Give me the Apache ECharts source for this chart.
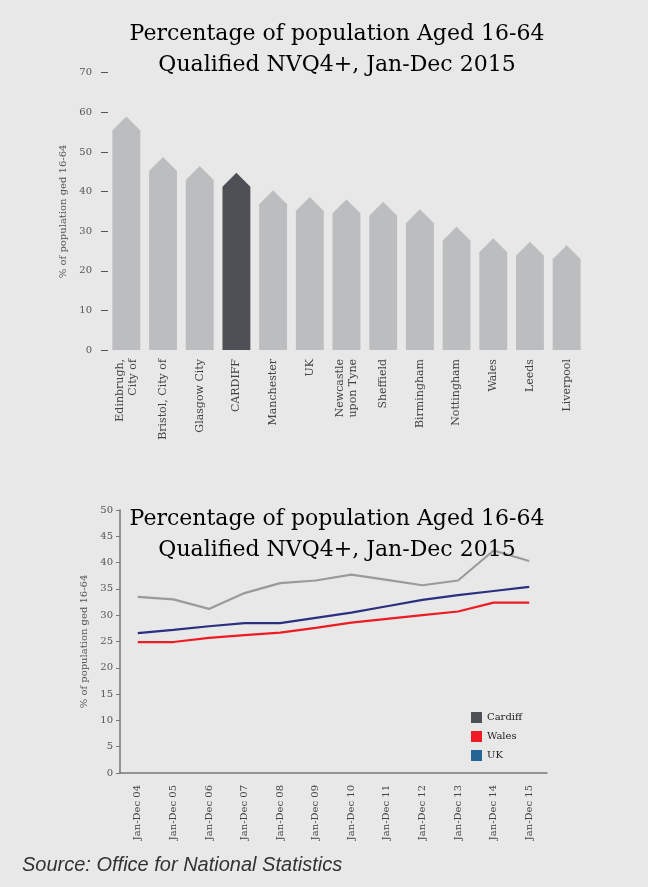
<!DOCTYPE html>
<html><head><meta charset="utf-8">
<script src="https://cdn.jsdelivr.net/npm/echarts@6/dist/echarts.min.js"></script>
<style>html,body{margin:0;padding:0;background:#e8e8e8}#c{width:648px;height:887px}</style>
</head><body><div id="c"></div>
<script>
var barCategories = ['Edinbrugh,\nCity of','Bristol, City of','Glasgow City','CARDIFF','Manchester','UK','Newcastle\nupon Tyne','Sheffield','Birmingham','Nottingham','Wales','Leeds','Liverpool'];
var barValues = [55.4, 45.2, 42.9, 41.2, 36.8, 35.1, 34.5, 33.9, 32.0, 27.6, 24.7, 23.8, 22.9];
var highlightCategory = 'CARDIFF';
var yearLabels = ['Jan-Dec 04','Jan-Dec 05','Jan-Dec 06','Jan-Dec 07','Jan-Dec 08','Jan-Dec 09','Jan-Dec 10','Jan-Dec 11','Jan-Dec 12','Jan-Dec 13','Jan-Dec 14','Jan-Dec 15'];
var cardiffSeries = [33.5, 33.0, 31.2, 34.2, 36.1, 36.6, 37.7, 36.7, 35.7, 36.6, 42.3, 40.3];
var walesSeries = [24.9, 24.9, 25.7, 26.2, 26.7, 27.6, 28.6, 29.3, 30.0, 30.7, 32.4, 32.4];
var ukSeries = [26.6, 27.2, 27.9, 28.5, 28.5, 29.5, 30.5, 31.7, 32.9, 33.8, 34.6, 35.4];
var titleText = 'Percentage of population Aged 16-64\nQualified NVQ4+, Jan-Dec 2015';
var yAxisName = '% of population ged 16-64';
var sourceText = 'Source: Office for National Statistics';

var serif = '"DejaVu Serif", serif';
var chart = echarts.init(document.getElementById('c'));
var barData = barValues.map(function(v,i){return [i, v];});

chart.setOption({
  backgroundColor: '#e8e8e8',
  animation: false,
  title: [
    {text: titleText, left: 332, top: 14, textAlign: 'center',
     textStyle:{fontFamily: serif, fontSize: 22, fontWeight: 'normal', color: '#000', lineHeight: 31}},
    {text: titleText, left: 332, top: 499, textAlign: 'center',
     textStyle:{fontFamily: serif, fontSize: 22, fontWeight: 'normal', color: '#000', lineHeight: 31}}
  ],
  graphic: [{type:'text', left: 22, top: 855, style:{text: sourceText, font: 'italic 20px "Liberation Sans", Arial, sans-serif', fill:'#333'}}],
  legend: {
    orient: 'vertical', left: 466, top: 707, itemWidth: 11, itemHeight: 11, itemGap: 8,
    textStyle: {fontFamily: serif, fontSize: 10, color: '#222'},
    data: [
      {name:'Cardiff', icon:'rect', itemStyle:{color:'#4d5054'}},
      {name:'Wales', icon:'rect', itemStyle:{color:'#ed1c24'}},
      {name:'UK', icon:'rect', itemStyle:{color:'#256596'}}
    ]
  },
  grid: [
    {left: 108, right: 63, top: 72.7, bottom: 537},
    {left: 120, right: 101, top: 510, bottom: 114}
  ],
  xAxis: [
    {type:'category', gridIndex:0, data: barCategories,
     axisLine:{show:false}, axisTick:{show:false},
     axisLabel:{rotate:90, interval:0, margin:9, fontFamily: serif, fontSize:11, color:'#444', lineHeight:13}},
    {type:'category', gridIndex:1, data: yearLabels, boundaryGap:true,
     axisLine:{lineStyle:{color:'#777', width:1.5}}, axisTick:{alignWithLabel:true, length:4, lineStyle:{color:'#777'}},
     axisLabel:{rotate:90, interval:0, margin:12, fontFamily: serif, fontSize:10, color:'#444'}}
  ],
  yAxis: [
    {type:'value', gridIndex:0, min:0, max:70, interval:10,
     name: yAxisName, nameLocation:'middle', nameGap: 39, nameRotate: 90,
     nameTextStyle:{fontFamily: serif, fontSize:10, color:'#555'},
     axisLine:{show:false}, axisTick:{show:true, length:7, lineStyle:{color:'#555'}},
     splitLine:{show:false},
     axisLabel:{margin:16, fontFamily: serif, fontSize:10, color:'#555'}},
    {type:'value', gridIndex:1, min:0, max:50, interval:5,
     name: yAxisName, nameLocation:'middle', nameGap: 31, nameRotate: 90,
     nameTextStyle:{fontFamily: serif, fontSize:10, color:'#555'},
     axisLine:{show:true, lineStyle:{color:'#777', width:1.5}}, axisTick:{show:true, length:4, lineStyle:{color:'#777'}},
     splitLine:{show:false},
     axisLabel:{margin:7, fontFamily: serif, fontSize:10, color:'#555'}}
  ],
  series: [
    {type:'custom', xAxisIndex:0, yAxisIndex:0, data: barData,
     renderItem: function(params, api){
       var idx = api.value(0), v = api.value(1);
       var top = api.coord([idx, v]);
       var base = api.coord([idx, 0]);
       var w = api.size([1, 0])[0] * 0.76;
       var h = w / 2;
       var col = barCategories[idx] === highlightCategory ? '#4d5054' : '#bcbdbf';
       return {type:'polygon', shape:{points:[
         [top[0]-w/2, base[1]], [top[0]-w/2, top[1]], [top[0], top[1]-h],
         [top[0]+w/2, top[1]], [top[0]+w/2, base[1]]]},
         style:{fill: col}};
     }},
    {name:'Cardiff', type:'line', xAxisIndex:1, yAxisIndex:1, data: cardiffSeries,
     symbol:'none', lineStyle:{color:'#9a9a9a', width:2.2}, itemStyle:{color:'#9a9a9a'}},
    {name:'Wales', type:'line', xAxisIndex:1, yAxisIndex:1, data: walesSeries,
     symbol:'none', lineStyle:{color:'#ed1c24', width:2.2}, itemStyle:{color:'#ed1c24'}},
    {name:'UK', type:'line', xAxisIndex:1, yAxisIndex:1, data: ukSeries,
     symbol:'none', lineStyle:{color:'#2b2f7f', width:2.2}, itemStyle:{color:'#2b2f7f'}}
  ]
});
</script></body></html>
